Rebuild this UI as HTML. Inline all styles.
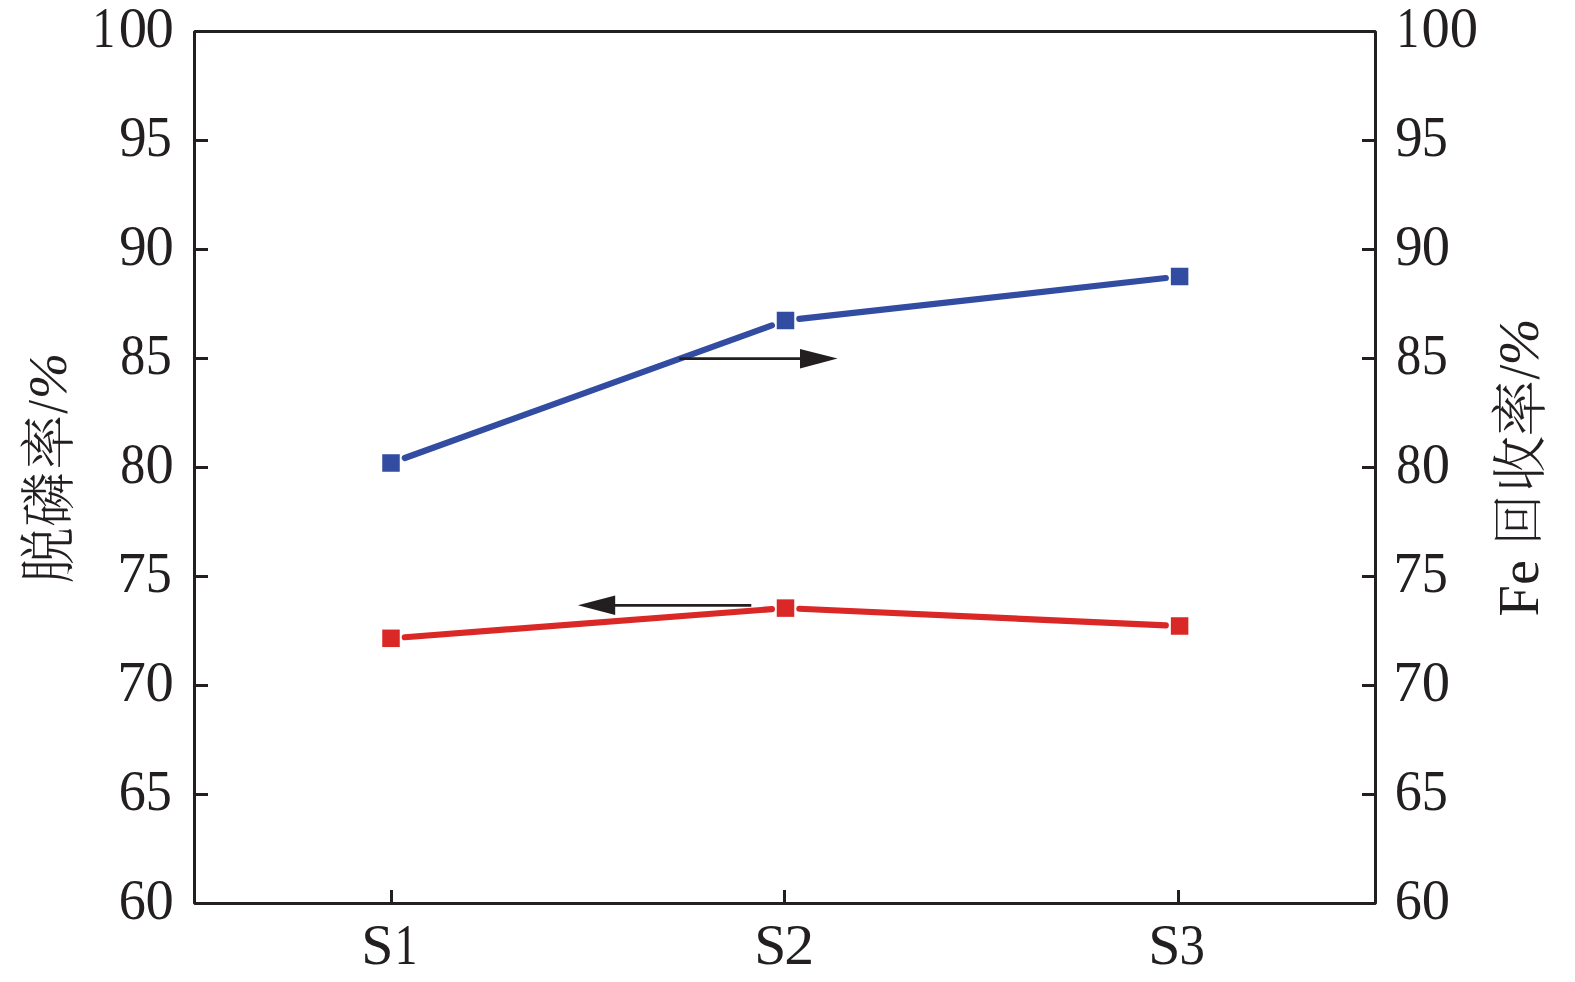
<!DOCTYPE html>
<html>
<head>
<meta charset="utf-8">
<style>
html,body{margin:0;padding:0;background:#fff;}
body{width:1575px;height:982px;overflow:hidden;}
svg{display:block;}
.t{font-family:"Liberation Serif","Noto Serif CJK SC",serif;font-size:56.5px;fill:#231f20;}
.c{font-family:"Noto Serif CJK SC","Liberation Serif",serif;font-weight:300;}
.l{font-family:"Liberation Serif",serif;}
.i{font-style:italic;}
</style>
</head>
<body>
<svg width="1575" height="982" viewBox="0 0 1575 982">
<rect x="0" y="0" width="1575" height="982" fill="#fff"/>
<!-- frame -->
<rect x="194.5" y="31.5" width="1181" height="872" stroke="#231f20" stroke-width="3" stroke-linejoin="bevel" fill="none"/>
<!-- ticks -->
<g stroke="#231f20" stroke-width="3" fill="none">
<path d="M194.5 140.5H208M194.5 249.5H208M194.5 358.5H208M194.5 467.5H208M194.5 576.5H208M194.5 685.5H208M194.5 794.5H208"/>
<path d="M1375.5 140.5H1362M1375.5 249.5H1362M1375.5 358.5H1362M1375.5 467.5H1362M1375.5 576.5H1362M1375.5 685.5H1362M1375.5 794.5H1362"/>
<path d="M391.5 903.5V890M784.5 903.5V890M1178.5 903.5V890"/>
</g>
<!-- tick labels -->
<g class="t">
<text transform="translate(92.62 46.50) scale(0.800 1)">1</text>
<text transform="translate(118.74 46.50) scale(1.002 1)">0</text>
<text transform="translate(145.54 46.50) scale(1.002 1)">0</text>
<text transform="translate(1396.62 46.50) scale(0.800 1)">1</text>
<text transform="translate(1421.54 46.50) scale(1.002 1)">0</text>
<text transform="translate(1449.74 46.50) scale(1.002 1)">0</text>
<text transform="translate(119.13 155.50) scale(0.970 1)">9</text>
<text transform="translate(1395.13 155.50) scale(0.970 1)">9</text>
<text transform="translate(145.67 155.50) scale(0.923 1)">5</text>
<text transform="translate(1421.77 155.50) scale(0.923 1)">5</text>
<text transform="translate(119.13 264.50) scale(0.970 1)">9</text>
<text transform="translate(1395.13 264.50) scale(0.970 1)">9</text>
<text transform="translate(145.54 264.50) scale(1.002 1)">0</text>
<text transform="translate(1421.64 264.50) scale(1.002 1)">0</text>
<text transform="translate(120.19 373.50) scale(0.885 1)">8</text>
<text transform="translate(1396.19 373.50) scale(0.885 1)">8</text>
<text transform="translate(145.67 373.50) scale(0.923 1)">5</text>
<text transform="translate(1421.77 373.50) scale(0.923 1)">5</text>
<text transform="translate(120.19 482.50) scale(0.885 1)">8</text>
<text transform="translate(1396.19 482.50) scale(0.885 1)">8</text>
<text transform="translate(145.54 482.50) scale(1.002 1)">0</text>
<text transform="translate(1421.64 482.50) scale(1.002 1)">0</text>
<text transform="translate(117.13 591.50) scale(1.013 1)">7</text>
<text transform="translate(1393.13 591.50) scale(1.013 1)">7</text>
<text transform="translate(145.67 591.50) scale(0.923 1)">5</text>
<text transform="translate(1421.77 591.50) scale(0.923 1)">5</text>
<text transform="translate(117.13 700.50) scale(1.013 1)">7</text>
<text transform="translate(1393.13 700.50) scale(1.013 1)">7</text>
<text transform="translate(145.54 700.50) scale(1.002 1)">0</text>
<text transform="translate(1421.64 700.50) scale(1.002 1)">0</text>
<text transform="translate(118.77 809.50) scale(0.961 1)">6</text>
<text transform="translate(1394.77 809.50) scale(0.961 1)">6</text>
<text transform="translate(145.67 809.50) scale(0.923 1)">5</text>
<text transform="translate(1421.77 809.50) scale(0.923 1)">5</text>
<text transform="translate(118.77 918.50) scale(0.961 1)">6</text>
<text transform="translate(1394.77 918.50) scale(0.961 1)">6</text>
<text transform="translate(145.54 918.50) scale(1.002 1)">0</text>
<text transform="translate(1421.64 918.50) scale(1.002 1)">0</text>
<text transform="translate(361.23 964.10) scale(1.023 1)">S</text>
<text transform="translate(394.67 964.10) scale(0.800 1)">1</text>
<text transform="translate(754.35 964.10) scale(1.019 1)">S</text>
<text transform="translate(784.37 964.10) scale(1.060 1)">2</text>
<text transform="translate(1148.23 964.10) scale(1.023 1)">S</text>
<text transform="translate(1179.57 964.10) scale(0.900 1)">3</text>
</g>
<!-- axis titles -->
<g class="t">
<text class="c" style="font-size:55.5px" transform="translate(68.36 583.38) rotate(-90) scale(1.0133 1.0166)">脱</text>
<text class="c" style="font-size:55.5px" transform="translate(67.99 526.83) rotate(-90) scale(0.9804 1.0043)">磷</text>
<text class="c" style="font-size:55.5px" transform="translate(68.32 469.82) rotate(-90) scale(0.9920 1.0036)">率</text>
<text class="l" style="font-size:56.5px" transform="translate(66.94 413.80) rotate(-90) scale(0.8791 1.0107)">/</text>
<text class="l i" style="font-size:56.5px" transform="translate(66.29 399.20) rotate(-90) scale(0.9899 0.9551)">%</text>
<text class="l" style="font-size:56.5px" transform="translate(1538.30 616.62) rotate(-90) scale(0.9945 0.9947)">F</text>
<text class="l" style="font-size:56.5px" transform="translate(1538.36 585.00) rotate(-90) scale(0.9947 0.9715)">e</text>
<text class="c" style="font-size:55.5px" transform="translate(1537.17 545.18) rotate(-90) scale(0.9131 0.9346)">回</text>
<text class="c" style="font-size:55.5px" transform="translate(1538.57 492.07) rotate(-90) scale(1.0114 0.9790)">收</text>
<text class="c" style="font-size:55.5px" transform="translate(1540.34 436.59) rotate(-90) scale(1.0217 1.0232)">率</text>
<text class="l" style="font-size:56.5px" transform="translate(1538.63 379.40) rotate(-90) scale(0.9365 1.0398)">/</text>
<text class="l i" style="font-size:56.5px" transform="translate(1537.85 365.53) rotate(-90) scale(0.9998 1.0021)">%</text>
</g>
<!-- blue series -->
<g stroke="#314ca0" stroke-width="6.2" stroke-linecap="round" fill="none">
<path d="M404.8 458.02L771.9 325.41"/>
<path d="M799.35 318.95L1165.8 278.04"/>
</g>
<g fill="#314ca0">
<rect x="382.25" y="454.25" width="17.5" height="17.5"/>
<rect x="776.75" y="311.75" width="17.5" height="17.5"/>
<rect x="1170.85" y="267.75" width="17.5" height="17.5"/>
</g>
<!-- red series -->
<g stroke="#da2826" stroke-width="6.2" stroke-linecap="round" fill="none">
<path d="M404.8 637.24L771.9 609.14"/>
<path d="M799.35 608.73L1165.8 625.37"/>
</g>
<g fill="#da2826">
<rect x="382.25" y="629.55" width="17.5" height="17.5"/>
<rect x="776.75" y="599.35" width="17.5" height="17.5"/>
<rect x="1170.85" y="617.25" width="17.5" height="17.5"/>
</g>
<!-- arrows -->
<g stroke="#231f20" stroke-width="2.8" fill="none">
<path d="M679.3 358.6H802"/>
<path d="M751.3 605.4H613"/>
</g>
<g fill="#231f20">
<path d="M800 349L837.6 358.6L800 368.6Z"/>
<path d="M615.2 595.6L577.9 605.3L615.2 615Z"/>
</g>
</svg>
</body>
</html>
